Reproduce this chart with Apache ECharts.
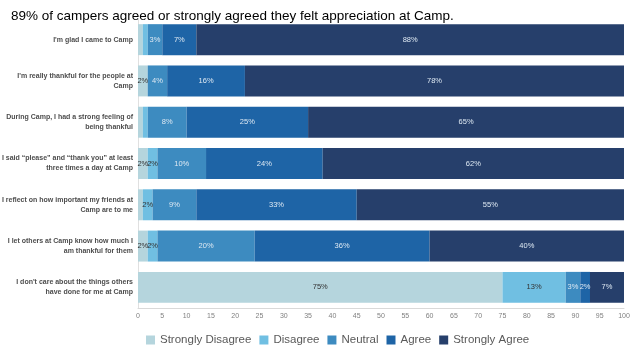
<!DOCTYPE html>
<html>
<head>
<meta charset="utf-8">
<script src="https://cdn.jsdelivr.net/npm/echarts@6/dist/echarts.min.js"></script>
<style>
html,body{margin:0;padding:0;background:#fff;}
#chart{width:637px;height:356px;}
</style>
</head>
<body>
<div id="chart"></div>
<script>
const titleText = "89% of campers agreed or strongly agreed they felt appreciation at Camp.";
const categories = [
  "I'm glad I came to Camp",
  "I'm really thankful for the people at\nCamp",
  "During Camp, I had a strong feeling of\nbeing thankful",
  "I said \u201cplease\u201d and \u201cthank you\u201d at least\nthree times a day at Camp",
  "I reflect on how important my friends at\nCamp are to me",
  "I let others at Camp know how much I\nam thankful for them",
  "I don't care about the things others\nhave done for me at Camp"
];
const seriesNames = ["Strongly Disagree", "Disagree", "Neutral", "Agree", "Strongly Agree"];
const stronglyDisagree = [1, 2, 1, 2, 1, 2, 75];
const disagree         = [1, 0, 1, 2, 2, 2, 13];
const neutral          = [3, 4, 8, 10, 9, 20, 3];
const agree            = [7, 16, 25, 24, 33, 36, 2];
const stronglyAgree    = [88, 78, 65, 62, 55, 40, 7];
const xTicks = [0, 100, 5];

const colors = ["#b5d5dd", "#70bfe2", "#3d8bc0", "#1e64a6", "#263f6b"];
const labelColors = ["#333333", "#333333", "#dde8f2", "#dde8f2", "#dde8f2"];
const allData = [stronglyDisagree, disagree, neutral, agree, stronglyAgree];

const chart = echarts.init(document.getElementById('chart'), null, {renderer: 'canvas'});
chart.setOption({
  animation: false,
  title: {
    text: titleText, left: 6, top: 4,
    textStyle: {fontFamily: 'Liberation Sans', fontSize: 13.5, fontWeight: 'normal', color: '#000'}
  },
  legend: {
    bottom: 5, left: 141, itemWidth: 9, itemHeight: 9, itemGap: 8,
    icon: 'rect',
    textStyle: {fontFamily: 'Liberation Sans', fontSize: 11.5, color: '#595959'},
    data: seriesNames
  },
  grid: {left: 138, right: 13, top: 19, bottom: 48, containLabel: false, outerBoundsMode: 'none'},
  xAxis: {
    type: 'value', min: xTicks[0], max: xTicks[1], interval: xTicks[2],
    axisLine: {show: true, lineStyle: {color: '#d9d9d9'}},
    axisTick: {show: false},
    splitLine: {show: false},
    axisLabel: {fontFamily: 'Liberation Sans', fontSize: 7, color: '#808080', margin: 5}
  },
  yAxis: {
    type: 'category', inverse: true, data: categories,
    axisLine: {show: true, lineStyle: {color: '#e0e0e0'}},
    axisTick: {show: false},
    axisLabel: {fontFamily: 'Liberation Sans', fontSize: 7, fontWeight: 'bold', color: '#4d4d4d', margin: 5, lineHeight: 10, align: 'right'}
  },
  series: seriesNames.map((name, i) => ({
    name: name, type: 'bar', stack: 'total', barWidth: '75%',
    itemStyle: {color: colors[i]},
    label: {
      show: true, position: 'inside', fontFamily: 'Liberation Sans', fontSize: 7.5,
      color: labelColors[i],
      formatter: p => p.value >= 2 ? p.value + '%' : ''
    },
    data: allData[i]
  }))
});
</script>
</body>
</html>
